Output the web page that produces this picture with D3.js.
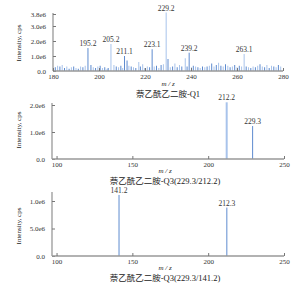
<!DOCTYPE html>
<html>
<meta charset="utf-8">
<title>MRM spectra</title>
<style>
    body { margin: 0; background: #fff; }
    text { font-family: "Liberation Serif", "Noto Sans CJK SC", serif; fill: #222; }
    .axis path { stroke: #999; stroke-width: 1.3px; }
    .axis line { stroke: #777; }
    .axis text { font-size: 7px; fill: #333; }
    .ylab { font-size: 7px; }
    .mz { font-size: 7px; font-style: italic; }
    .title { font-size: 8.5px; }
    .peak { font-size: 7.5px; fill: #333; }
</style>
<script src="https://cdn.jsdelivr.net/npm/d3@7"></script>
<body>
<script>
    // Q1 scan: background ions (m/z, intensity) and labelled peaks
    const q1NoiseMz = [181, 182, 183, 184, 185, 186, 187, 188, 189, 190, 191, 192, 193, 194,
        196.5, 197.5, 198.5, 199.5, 200.5, 201.5, 202.5, 203.5, 204, 206.5, 207.5, 208.5, 209.5, 210.3,
        212.2, 213, 214, 215, 216, 217.3, 218, 219, 220, 221, 222, 224, 225, 226, 227, 228,
        230, 231, 232, 233, 234, 235, 236, 237.5, 238.3, 240.2, 241, 242, 243, 244, 245, 246, 247, 248,
        249, 250, 251, 252, 253, 254, 255, 256, 257, 258, 259, 260, 261, 262, 264, 265, 266, 267,
        268, 269, 270, 271, 272, 273, 274, 275, 276, 277, 278, 279]
    const q1NoiseInt = [0.25, 0.35, 0.3, 0.4, 0.2, 0.3, 0.15, 0.25, 0.3, 0.2, 0.15, 0.3, 0.25, 0.35,
        0.4, 0.25, 0.2, 0.3, 0.35, 0.2, 0.25, 0.15, 0.2, 0.4, 0.3, 0.25, 0.35, 0.2,
        0.7, 0.35, 0.3, 0.25, 0.2, 0.6, 0.3, 0.45, 0.2, 0.3, 0.25, 0.3, 0.35, 0.2, 0.4, 0.45,
        0.8, 0.25, 0.3, 0.5, 0.25, 0.4, 0.3, 0.85, 0.3, 0.25, 0.35, 0.3, 0.25, 0.2, 0.3, 0.25, 0.3, 0.35,
        0.5, 0.3, 0.4, 0.55, 0.35, 0.3, 0.45, 0.35, 0.25, 0.3, 0.4, 0.25, 0.35, 0.3, 0.3, 0.25, 0.2, 0.3,
        0.25, 0.35, 0.45, 0.3, 0.25, 0.4, 0.2, 0.35, 0.3, 0.25, 0.4, 0.3].map(v => v * 1e6)
    const q1PeakMz = [195.2, 205.2, 211.1, 223.1, 229.2, 239.2, 263.1]
    const q1PeakInt = [1.53e6, 1.8e6, 1.0e6, 1.45e6, 3.9e6, 1.22e6, 1.13e6]

    // product ion scans
    const q3aMz = [212.2, 229.3]
    const q3aInt = [2.1e6, 1.22e6]
    const q3bMz = [141.2, 212.3]
    const q3bInt = [1.11e6, 0.88e6]

    const q1Ticks = [180, 200, 220, 240, 260, 280]
    const q3Ticks = [100, 150, 200, 250]
    const q1YTicks = [0, 1e6, 2e6, 3e6, 3.8e6]
    const q1YLabels = ["0.0", "1.0e6", "2.0e6", "3.0e6", "3.8e6"]
    const q3aYTicks = [0, 1e6, 2e6]
    const q3aYLabels = ["0.0", "1.0e6", "2.0e6"]
    const q3bYTicks = [0, 0.5e6, 1e6]
    const q3bYLabels = ["0.0", "5.0e6", "1.0e6"]

    const titles = ["萘乙酰乙二胺-Q1", "萘乙酰乙二胺-Q3(229.3/212.2)", "萘乙酰乙二胺-Q3(229.3/141.2)"]

    const dark = "#5e8bcf", light = "#a8c3eb"

    const svg = d3.select("body").append("svg").attr("width", 300).attr("height", 285)

    function panel(o) {
        const x = d3.scaleLinear().domain(o.xd).range([o.left, o.right])
        const y = d3.scaleLinear().domain([0, o.ymax]).range([o.bottom, o.top])
        const g = svg.append("g")

        // bars
        g.selectAll("line.bar").data(o.bars).enter().append("line")
            .attr("class", "bar")
            .attr("x1", d => x(d.mz)).attr("x2", d => x(d.mz))
            .attr("y1", y(0)).attr("y2", d => y(d.v))
            .attr("stroke", (d, i) => d.c || (i % 2 ? light : dark))
            .attr("stroke-width", d => d.w || 1)

        g.selectAll("text.peak").data(o.bars.filter(d => d.label)).enter().append("text")
            .attr("class", "peak")
            .attr("x", d => x(d.mz)).attr("y", d => y(d.v) - 2)
            .attr("text-anchor", "middle")
            .text(d => d.label)

        const ya = d3.axisLeft(y).tickValues(o.yTicks).tickFormat((d, i) => o.yLabels[i])
            .tickSize(-3).tickPadding(7)
        g.append("g").attr("class", "axis").attr("transform", `translate(${o.left},0)`).call(ya)
            .call(a => a.select(".domain").attr("d", `M0,${o.bottom}V${o.axisTop}`))

        const xa = d3.axisBottom(x).tickValues(o.xTicks).tickSize(-3).tickPadding(3)
        g.append("g").attr("class", "axis").attr("transform", `translate(0,${o.bottom})`).call(xa)
            .call(a => a.select(".domain").attr("d", `M${o.left},0H${o.right}`).attr("stroke", "#666"))

        g.append("text").attr("class", "ylab")
            .attr("transform", `translate(21,${o.ylabY}) rotate(-90)`)
            .attr("text-anchor", "middle").text("Intensity, cps")
        g.append("text").attr("class", "mz").attr("x", o.mzX).attr("y", o.mzY)
            .attr("text-anchor", "middle").text("m / z")
        g.append("text").attr("class", "title").attr("x", o.mzX).attr("y", o.titleY)
            .attr("text-anchor", "middle").text(o.title)
    }

    const q1Bars = q1NoiseMz.map((m, i) => ({ mz: m, v: q1NoiseInt[i] }))
    q1PeakMz.forEach((m, i) => q1Bars.push({
        mz: m, v: q1PeakInt[i], label: String(m),
        c: (m === 229.2 || m === 263.1 || m === 205.2) ? light : dark
    }))

    panel({
        xd: [180, 280], left: 53, right: 283, ymax: 3.8e6, top: 14, bottom: 71, axisTop: 13,
        bars: q1Bars, xTicks: q1Ticks, yTicks: q1YTicks, yLabels: q1YLabels,
        ylabY: 43, mzX: 168, mzY: 86, titleY: 97, title: titles[0]
    })

    panel({
        xd: [97, 250], left: 52, right: 284, ymax: 2e6, top: 105, bottom: 159, axisTop: 103,
        bars: q3aMz.map((m, i) => ({ mz: m, v: q3aInt[i], label: String(m), c: i ? dark : light, w: i ? 1 : 2 })),
        xTicks: q3Ticks, yTicks: q3aYTicks, yLabels: q3aYLabels,
        ylabY: 130, mzX: 165, mzY: 173, titleY: 184, title: titles[1]
    })

    panel({
        xd: [97, 250], left: 52, right: 284, ymax: 1e6, top: 201, bottom: 256, axisTop: 192,
        bars: q3bMz.map((m, i) => ({ mz: m, v: q3bInt[i], label: String(m), c: dark })),
        xTicks: q3Ticks, yTicks: q3bYTicks, yLabels: q3bYLabels,
        ylabY: 226, mzX: 165, mzY: 270, titleY: 281, title: titles[2]
    })
</script>
</body>
</html>
